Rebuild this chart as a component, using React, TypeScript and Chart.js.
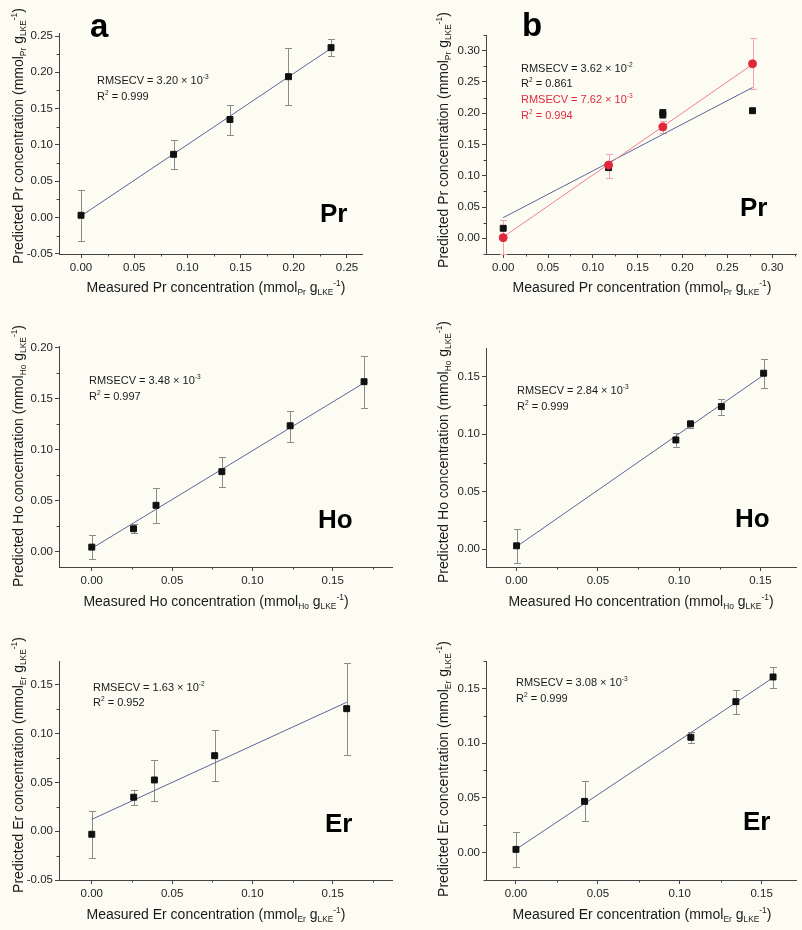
import React, { useEffect, useRef } from 'react';
import { Chart, registerables } from 'chart.js';

Chart.register(...registerables);

const FONT = "'Liberation Sans', Arial, Helvetica, sans-serif";
const BG = '#fdfcf3';
const AXIS = '#444444';
const TICK_TEXT = '#1e1e1e';
const FIT_BLUE = '#5d6496';
const ERR_GREY = '#8c8c8c';
const MARK_BLACK = '#111111';
const RED = '#e0283c';
const RED_LINE = '#f07c92';
const RED_ERR = '#f3a3b3';

// ---------- Panel a : Pr ----------
const aMeasured = [0, 0.087, 0.14, 0.195, 0.235];
const aPredicted = [0.003, 0.087, 0.135, 0.194, 0.234];
const aErrHigh = [0.038, 0.107, 0.155, 0.233, 0.246];
const aErrLow = [-0.032, 0.067, 0.114, 0.155, 0.222];
const aFitX = [0, 0.235];
const aFitY = [0.002, 0.233];
const aXTicks = [0, 0.05, 0.1, 0.15, 0.2, 0.25];
const aYTicks = [-0.05, 0, 0.05, 0.1, 0.15, 0.2, 0.25];

// ---------- Panel b : Pr ----------
const bMeasuredBlack = [0, 0.1175, 0.178, 0.178, 0.278];
const bPredictedBlack = [0.016, 0.113, 0.201, 0.197, 0.204];
const bMeasuredRed = [0, 0.1175, 0.178, 0.278];
const bPredictedRed = [0.001, 0.117, 0.178, 0.279];
const bRedErrHigh = [0.029, 0.135, 0.188, 0.32];
const bRedErrLow = [-0.025, 0.097, 0.168, 0.238];
const bFitBlackX = [0, 0.278];
const bFitBlackY = [0.033, 0.241];
const bFitRedX = [0, 0.278];
const bFitRedY = [0.002, 0.278];
const bXTicks = [0, 0.05, 0.1, 0.15, 0.2, 0.25, 0.3];
const bYTicks = [0, 0.05, 0.1, 0.15, 0.2, 0.25, 0.3];

// ---------- Panel c : Ho ----------
const cMeasured = [0, 0.026, 0.04, 0.081, 0.1235, 0.1695];
const cPredicted = [0.0045, 0.0225, 0.0455, 0.0785, 0.1235, 0.1667];
const cErrHigh = [0.016, 0.027, 0.0625, 0.093, 0.138, 0.192];
const cErrLow = [-0.007, 0.0186, 0.0285, 0.0637, 0.108, 0.1412];
const cFitX = [0, 0.1695];
const cFitY = [0.0033, 0.1655];
const cXTicks = [0, 0.05, 0.1, 0.15];
const cYTicks = [0, 0.05, 0.1, 0.15, 0.2];

// ---------- Panel d : Ho ----------
const dMeasured = [0, 0.098, 0.107, 0.126, 0.152];
const dPredicted = [0.003, 0.095, 0.109, 0.124, 0.153];
const dErrHigh = [0.0174, 0.1013, 0.1117, 0.1303, 0.165];
const dErrLow = [-0.0122, 0.0886, 0.1054, 0.1167, 0.1404];
const dFitX = [0, 0.152];
const dFitY = [0.0023, 0.1514];
const dXTicks = [0, 0.05, 0.1, 0.15];
const dYTicks = [0, 0.05, 0.1, 0.15];

// ---------- Panel e : Er ----------
const eMeasured = [0, 0.0261, 0.039, 0.0765, 0.1587];
const ePredicted = [-0.0031, 0.0349, 0.0526, 0.0775, 0.1257];
const eErrHigh = [0.0208, 0.0418, 0.0731, 0.1035, 0.1723];
const eErrLow = [-0.0277, 0.0274, 0.031, 0.0518, 0.0785];
const eFitX = [0, 0.1587];
const eFitY = [0.0122, 0.1323];
const eXTicks = [0, 0.05, 0.1, 0.15];
const eYTicks = [-0.05, 0, 0.05, 0.1, 0.15];

// ---------- Panel f : Er ----------
const fMeasured = [0, 0.0419, 0.1068, 0.1343, 0.157];
const fPredicted = [0.0027, 0.0466, 0.1052, 0.1378, 0.1604];
const fErrHigh = [0.0186, 0.065, 0.1104, 0.1482, 0.1698];
const fErrLow = [-0.0134, 0.0286, 0.0997, 0.1265, 0.1506];
const fFitX = [0, 0.157];
const fFitY = [0.0027, 0.1597];
const fXTicks = [0, 0.05, 0.1, 0.15];
const fYTicks = [0, 0.05, 0.1, 0.15];

type Series = {
  x: number[];
  y: number[];
  hi?: number[];
  lo?: number[];
  color: string;
  errColor: string;
  style: 'rect' | 'circle';
  radius: number;
};
type Fit = { x: number[]; y: number[]; color: string };
type PanelCfg = {
  key: string;
  left: number;
  top: number;
  w: number;
  h: number;
  area: { l: number; r: number; t: number; b: number };
  xRange: [number, number];
  yRange: [number, number];
  xTicks: number[];
  yTicks: number[];
  series: Series[];
  fits: Fit[];
};

const blackSeries = (x: number[], y: number[], hi?: number[], lo?: number[]): Series => ({
  x, y, hi, lo, color: MARK_BLACK, errColor: ERR_GREY, style: 'rect', radius: 4.2,
});

const panels: PanelCfg[] = [
  {
    key: 'a', left: 0, top: 0, w: 400, h: 300,
    area: { l: 59, r: 362, t: 33, b: 254 },
    xRange: [-0.0207, 0.2641], yRange: [-0.0504, 0.2542],
    xTicks: aXTicks, yTicks: aYTicks,
    series: [blackSeries(aMeasured, aPredicted, aErrHigh, aErrLow)],
    fits: [{ x: aFitX, y: aFitY, color: FIT_BLUE }],
  },
  {
    key: 'b', left: 400, top: 0, w: 402, h: 300,
    area: { l: 486, r: 798, t: 35, b: 254 },
    xRange: [-0.0192, 0.3274], yRange: [-0.0251, 0.325],
    xTicks: bXTicks, yTicks: bYTicks,
    series: [
      { x: bMeasuredRed, y: bPredictedRed, hi: bRedErrHigh, lo: bRedErrLow, color: RED, errColor: RED_ERR, style: 'circle', radius: 4 },
      blackSeries(bMeasuredBlack, bPredictedBlack),
    ],
    fits: [
      { x: bFitRedX, y: bFitRedY, color: RED_LINE },
      { x: bFitBlackX, y: bFitBlackY, color: FIT_BLUE },
    ],
  },
  {
    key: 'c', left: 0, top: 300, w: 400, h: 320,
    area: { l: 59, r: 392, t: 346, b: 567 },
    xRange: [-0.0204, 0.1869], yRange: [-0.015, 0.2017],
    xTicks: cXTicks, yTicks: cYTicks,
    series: [blackSeries(cMeasured, cPredicted, cErrHigh, cErrLow)],
    fits: [{ x: cFitX, y: cFitY, color: FIT_BLUE }],
  },
  {
    key: 'd', left: 400, top: 300, w: 402, h: 320,
    area: { l: 486, r: 799, t: 348, b: 567 },
    xRange: [-0.0188, 0.1724], yRange: [-0.0154, 0.1749],
    xTicks: dXTicks, yTicks: dYTicks,
    series: [blackSeries(dMeasured, dPredicted, dErrHigh, dErrLow)],
    fits: [{ x: dFitX, y: dFitY, color: FIT_BLUE }],
  },
  {
    key: 'e', left: 0, top: 620, w: 400, h: 310,
    area: { l: 59, r: 392, t: 661, b: 880 },
    xRange: [-0.0204, 0.1869], yRange: [-0.05, 0.1746],
    xTicks: eXTicks, yTicks: eYTicks,
    series: [blackSeries(eMeasured, ePredicted, eErrHigh, eErrLow)],
    fits: [{ x: eFitX, y: eFitY, color: FIT_BLUE }],
  },
  {
    key: 'f', left: 400, top: 620, w: 402, h: 310,
    area: { l: 486, r: 799, t: 661, b: 880 },
    xRange: [-0.0183, 0.1715], yRange: [-0.0253, 0.175],
    xTicks: fXTicks, yTicks: fYTicks,
    series: [blackSeries(fMeasured, fPredicted, fErrHigh, fErrLow)],
    fits: [{ x: fFitX, y: fFitY, color: FIT_BLUE }],
  },
];

function minorValues(ticks: number[], min: number, max: number): number[] {
  const out: number[] = [];
  if (ticks.length < 2) return out;
  const step = ticks[1] - ticks[0];
  const cands = [ticks[0] - step / 2, ...ticks.map((t) => t + step / 2)];
  cands.forEach((v) => {
    if (v >= min - 1e-9 && v <= max + 1e-9) out.push(v);
  });
  return out;
}

function Panel({ p }: { p: PanelCfg }) {
  const ref = useRef<HTMLCanvasElement>(null);
  useEffect(() => {
    const canvas = ref.current;
    if (!canvas) return;
    const datasets: any[] = [];
    p.series.forEach((s) => {
      datasets.push({
        data: s.x.map((xv, i) => ({ x: xv, y: s.y[i] })),
        showLine: false,
        pointStyle: s.style,
        pointRadius: s.radius,
        pointBackgroundColor: s.color,
        pointBorderColor: s.color,
        pointBorderWidth: 1,
        borderColor: s.color,
        backgroundColor: s.color,
      });
    });
    p.fits.forEach((f) => {
      datasets.push({
        data: f.x.map((xv, i) => ({ x: xv, y: f.y[i] })),
        showLine: true,
        pointRadius: 0,
        borderColor: f.color,
        borderWidth: 1,
        backgroundColor: f.color,
        fill: false,
      });
    });

    const extras = {
      id: 'extras' + p.key,
      beforeDatasetsDraw(chart: any) {
        const ctx = chart.ctx;
        const xs = chart.scales.x;
        const ys = chart.scales.y;
        p.series.forEach((s) => {
          if (!s.hi || !s.lo) return;
          ctx.save();
          ctx.strokeStyle = s.errColor;
          ctx.lineWidth = 1;
          s.x.forEach((xv, i) => {
            const px = Math.round(xs.getPixelForValue(xv)) + 0.5;
            const ph = Math.round(ys.getPixelForValue(s.hi![i])) + 0.5;
            const pl = Math.round(ys.getPixelForValue(s.lo![i])) + 0.5;
            ctx.beginPath();
            ctx.moveTo(px, ph);
            ctx.lineTo(px, pl);
            ctx.moveTo(px - 3.5, ph);
            ctx.lineTo(px + 3.5, ph);
            ctx.moveTo(px - 3.5, pl);
            ctx.lineTo(px + 3.5, pl);
            ctx.stroke();
          });
          ctx.restore();
        });
      },
      afterDraw(chart: any) {
        const ctx = chart.ctx;
        const xs = chart.scales.x;
        const ys = chart.scales.y;
        const area = chart.chartArea;
        ctx.save();
        ctx.strokeStyle = AXIS;
        ctx.lineWidth = 1;
        ctx.beginPath();
        minorValues(p.xTicks, p.xRange[0], p.xRange[1]).forEach((v) => {
          const px = Math.round(xs.getPixelForValue(v)) + 0.5;
          ctx.moveTo(px, area.bottom);
          ctx.lineTo(px, area.bottom + 2.5);
        });
        minorValues(p.yTicks, p.yRange[0], p.yRange[1]).forEach((v) => {
          const py = Math.round(ys.getPixelForValue(v)) + 0.5;
          ctx.moveTo(area.left - 2.5, py);
          ctx.lineTo(area.left, py);
        });
        ctx.stroke();
        ctx.restore();
      },
    };

    const fmt = (v: any) => Number(v).toFixed(2);

    const chart = new Chart(canvas, {
      type: 'scatter',
      data: { datasets },
      options: {
        responsive: false,
        maintainAspectRatio: false,
        animation: false,
        events: [],
        layout: {
          padding: {
            top: p.area.t - p.top,
            right: p.left + p.w - p.area.r,
            left: 0,
            bottom: 0,
          },
        },
        plugins: {
          legend: { display: false },
          tooltip: { enabled: false },
        },
        scales: {
          x: {
            type: 'linear',
            min: p.xRange[0],
            max: p.xRange[1],
            afterBuildTicks: (s: any) => {
              s.ticks = p.xTicks.map((v) => ({ value: v }));
            },
            afterFit: (s: any) => {
              s.height = p.top + p.h - p.area.b;
            },
            grid: {
              display: true,
              drawOnChartArea: false,
              drawTicks: true,
              tickLength: 4,
              color: AXIS,
              lineWidth: 1,
            },
            border: { display: true, color: AXIS, width: 1 },
            ticks: {
              color: TICK_TEXT,
              font: { size: 11.5, family: FONT },
              padding: 3,
              autoSkip: false,
              maxRotation: 0,
              callback: fmt,
            },
          },
          y: {
            type: 'linear',
            min: p.yRange[0],
            max: p.yRange[1],
            afterBuildTicks: (s: any) => {
              s.ticks = p.yTicks.map((v) => ({ value: v }));
            },
            afterFit: (s: any) => {
              s.width = p.area.l - p.left;
            },
            grid: {
              display: true,
              drawOnChartArea: false,
              drawTicks: true,
              tickLength: 4,
              color: AXIS,
              lineWidth: 1,
            },
            border: { display: true, color: AXIS, width: 1 },
            ticks: {
              color: TICK_TEXT,
              font: { size: 11.5, family: FONT },
              padding: 2,
              autoSkip: false,
              callback: fmt,
            },
          },
        },
      },
      plugins: [extras],
    });
    return () => chart.destroy();
  }, [p]);
  return (
    <canvas
      ref={ref}
      width={p.w}
      height={p.h}
      style={{ position: 'absolute', left: p.left, top: p.top, width: p.w, height: p.h, display: 'block' }}
    />
  );
}

const Sub = ({ t }: { t: string }) => (
  <span style={{ fontSize: '0.6em', position: 'relative', top: '0.35em' }}>{t}</span>
);
const Sup = ({ t }: { t: string }) => (
  <span style={{ fontSize: '0.6em', position: 'relative', top: '-0.75em' }}>{t}</span>
);

function AxisTitle({ kind, el, cx, cy }: { kind: 'x' | 'y'; el: string; cx: number; cy: number }) {
  const word = kind === 'x' ? 'Measured' : 'Predicted';
  return (
    <div
      style={{
        position: 'absolute',
        left: cx,
        top: cy,
        transform: kind === 'x' ? 'translate(-50%,-50%)' : 'translate(-50%,-50%) rotate(-90deg)',
        whiteSpace: 'nowrap',
        fontFamily: FONT,
        fontSize: 14,
        lineHeight: '14px',
        color: '#1a1a1a',
      }}
    >
      {word} {el} concentration (mmol<Sub t={el} /> g<Sub t="LKE" />
      <Sup t="-1" />)
    </div>
  );
}

function Note({ x, cy, color, children }: { x: number; cy: number; color?: string; children: React.ReactNode }) {
  return (
    <div
      style={{
        position: 'absolute',
        left: x,
        top: cy,
        transform: 'translateY(-50%)',
        whiteSpace: 'nowrap',
        fontFamily: FONT,
        fontSize: 11,
        lineHeight: '11px',
        color: color || '#1a1a1a',
      }}
    >
      {children}
    </div>
  );
}

function Big({ x, baseline, size, text }: { x: number; baseline: number; size: number; text: string }) {
  return (
    <div
      style={{
        position: 'absolute',
        left: x,
        top: baseline - 0.8465 * size,
        fontFamily: FONT,
        fontWeight: 'bold',
        fontSize: size,
        lineHeight: `${size}px`,
        color: '#000',
        whiteSpace: 'nowrap',
      }}
    >
      {text}
    </div>
  );
}

const rmse = (mant: string, exp: string) => (
  <>
    RMSECV = {mant} × 10<Sup t={exp} />
  </>
);
const r2 = (v: string) => (
  <>
    R<Sup t="2" /> = {v}
  </>
);

export default function App() {
  return (
    <div
      style={{
        position: 'absolute',
        left: 0,
        top: 0,
        width: 802,
        height: 930,
        background: BG,
        overflow: 'hidden',
      }}
    >
      {panels.map((p) => (
        <Panel key={p.key} p={p} />
      ))}

      <AxisTitle kind="x" el="Pr" cx={216} cy={288} />
      <AxisTitle kind="x" el="Pr" cx={642} cy={288} />
      <AxisTitle kind="x" el="Ho" cx={216} cy={602} />
      <AxisTitle kind="x" el="Ho" cx={641} cy={602} />
      <AxisTitle kind="x" el="Er" cx={216} cy={915} />
      <AxisTitle kind="x" el="Er" cx={642} cy={915} />

      <AxisTitle kind="y" el="Pr" cx={18.5} cy={136} />
      <AxisTitle kind="y" el="Pr" cx={444} cy={140} />
      <AxisTitle kind="y" el="Ho" cx={18.5} cy={456} />
      <AxisTitle kind="y" el="Ho" cx={444} cy={452} />
      <AxisTitle kind="y" el="Er" cx={18.5} cy={765} />
      <AxisTitle kind="y" el="Er" cx={444} cy={769} />

      <Note x={97} cy={81}>{rmse('3.20', '-3')}</Note>
      <Note x={97} cy={97}>{r2('0.999')}</Note>

      <Note x={521} cy={69}>{rmse('3.62', '-2')}</Note>
      <Note x={521} cy={84}>{r2('0.861')}</Note>
      <Note x={521} cy={100} color={RED}>{rmse('7.62', '-3')}</Note>
      <Note x={521} cy={116} color={RED}>{r2('0.994')}</Note>

      <Note x={89} cy={381}>{rmse('3.48', '-3')}</Note>
      <Note x={89} cy={397}>{r2('0.997')}</Note>

      <Note x={517} cy={391}>{rmse('2.84', '-3')}</Note>
      <Note x={517} cy={407}>{r2('0.999')}</Note>

      <Note x={93} cy={688}>{rmse('1.63', '-2')}</Note>
      <Note x={93} cy={703}>{r2('0.952')}</Note>

      <Note x={516} cy={683}>{rmse('3.08', '-3')}</Note>
      <Note x={516} cy={699}>{r2('0.999')}</Note>

      <Big x={90} baseline={37} size={33} text="a" />
      <Big x={522} baseline={36} size={33} text="b" />
      <Big x={320} baseline={222} size={26} text="Pr" />
      <Big x={740} baseline={216} size={26} text="Pr" />
      <Big x={318} baseline={528} size={26} text="Ho" />
      <Big x={735} baseline={527} size={26} text="Ho" />
      <Big x={325} baseline={832} size={26} text="Er" />
      <Big x={743} baseline={830} size={26} text="Er" />
    </div>
  );
}
